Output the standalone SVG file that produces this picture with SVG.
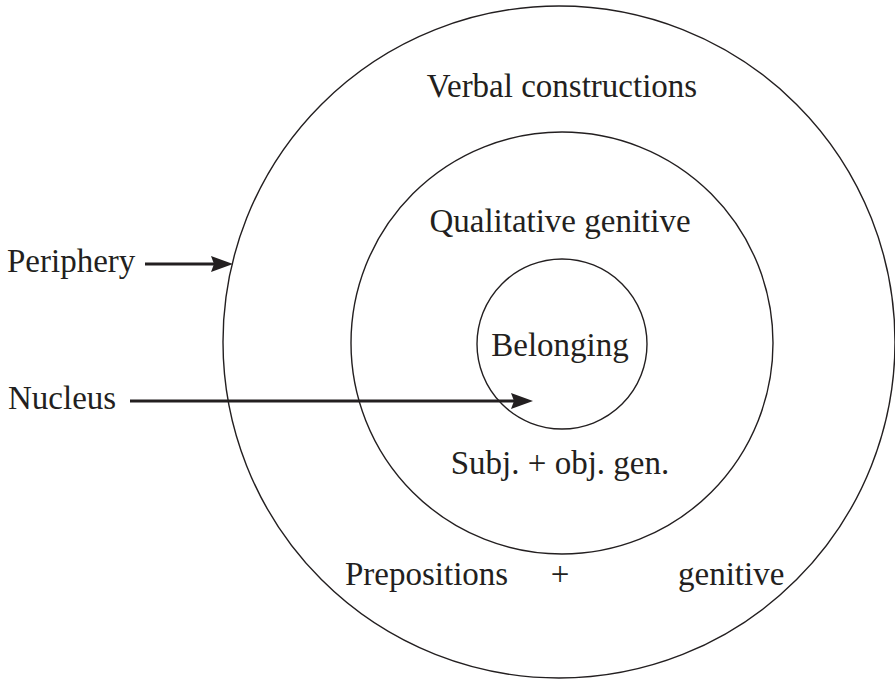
<svg xmlns="http://www.w3.org/2000/svg" width="895" height="680" viewBox="0 0 895 680">
<style>
.ring{fill:none;stroke:#231f20;stroke-width:1.4}
.lbl{font-family:'Liberation Serif','Times New Roman',Times,'DejaVu Serif',serif;font-size:33px;fill:#231f20}
.mid{text-anchor:middle}
.arrow{stroke:#231f20;stroke-width:3;fill:none}
</style>
<defs>
<marker id="ah" markerUnits="userSpaceOnUse" markerWidth="24" markerHeight="18" viewBox="0 0 24 18" refX="10" refY="8" orient="auto">
<path d="M0,0 L22,8 L0,16 L3,8 z" fill="#231f20"/>
</marker>
</defs>
<rect width="895" height="680" fill="#ffffff"/>
<g id="periphery-circle">
<circle class="ring" cx="559" cy="342" r="336"/>
<text class="lbl mid" x="562" y="97" font-family="Liberation Serif, serif">Verbal constructions</text>
<text class="lbl" x="345" y="585" font-family="Liberation Serif, serif">Prepositions</text>
<text class="lbl mid" x="560" y="585" font-family="Liberation Serif, serif">+</text>
<text class="lbl" x="678" y="585" font-family="Liberation Serif, serif">genitive</text>
</g>
<g id="middle-circle">
<circle class="ring" cx="562" cy="343" r="211"/>
<text class="lbl mid" x="560" y="232" font-family="Liberation Serif, serif">Qualitative genitive</text>
<text class="lbl mid" x="560" y="474" font-family="Liberation Serif, serif">Subj. + obj. gen.</text>
</g>
<g id="nucleus-circle">
<circle class="ring" cx="562" cy="344" r="85"/>
<text class="lbl mid" x="560" y="356" font-family="Liberation Serif, serif">Belonging</text>
</g>
<g id="label-periphery">
<text class="lbl" x="7" y="272" font-family="Liberation Serif, serif">Periphery</text>
</g>
<g id="label-nucleus">
<text class="lbl" x="8" y="409" font-family="Liberation Serif, serif">Nucleus</text>
</g>
<g id="connectors">
<line class="arrow" x1="145" y1="264" x2="221" y2="264" marker-end="url(#ah)"/>
<line class="arrow" x1="130" y1="401" x2="521" y2="401" marker-end="url(#ah)"/>
</g>
</svg>
